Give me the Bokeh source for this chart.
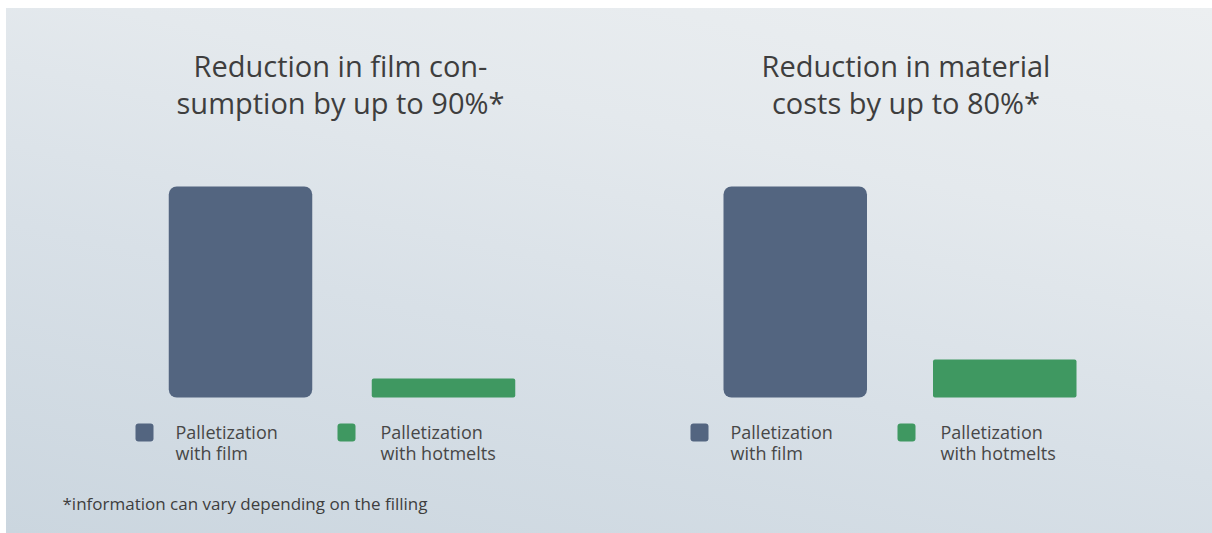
from bokeh.plotting import figure
from bokeh.models import FactorRange, Range1d, Label, BoxAnnotation, ColumnDataSource
from bokeh.layouts import row
from bokeh.embed import file_html
from bokeh.resources import INLINE

# ---- data ----
series = ["Palletization with film", "Palletization with hotmelts"]
legend_labels = ["Palletization\nwith film", "Palletization\nwith hotmelts"]
titles = ["Reduction in film con-\nsumption by up to 90%*",
          "Reduction in material\ncosts by up to 80%*"]
film_values = [100, 100]       # relative consumption / cost with film
hotmelt_values = [9, 18]       # relative consumption / cost with hotmelts
footnote = "*information can vary depending on the filling"
colors = ["#536580", "#3f9861"]

# ---- layout (pixels) ----
FONT = "Open Sans"
TEXT_COLOR = "#3e3e3e"
H = 525
panel_width = [671, 535]
panel_border_right = [0, 90]
unit_px = [203, 209.5]          # distance between the two bar centres
bar_px = 143.5
base_from_bottom = 136          # value 0 position above frame bottom
px_per_unit_y = 211 / 100.0
title_x = [334, 228.5]
title_top = 37
legend_box_x = [[129, 331], [13, 220]]
legend_text_x = [[169, 374], [53, 263]]
legend_box_top, legend_box_size = 110, 18
legend_text_top = 113.6

y_start = -base_from_bottom / px_per_unit_y
y_end = y_start + H / px_per_unit_y

figs = []
for i in range(2):
    frame_w = panel_width[i] - panel_border_right[i]
    pad = (frame_w / unit_px[i] - 2) / 2.0
    p = figure(width=panel_width[i], height=H, output_backend="svg", toolbar_location=None,
               x_range=FactorRange(factors=series, range_padding=pad,
                                   range_padding_units="absolute"),
               y_range=Range1d(y_start, y_end),
               min_border_left=0, min_border_right=panel_border_right[i],
               min_border_top=0, min_border_bottom=0)
    p.axis.visible = False
    p.grid.visible = False
    p.outline_line_color = None
    p.background_fill_alpha = 0
    p.border_fill_alpha = 0

    w = bar_px / unit_px[i]
    src_f = ColumnDataSource(dict(x=[series[0]], top=[film_values[i]]))
    src_h = ColumnDataSource(dict(x=[series[1]], top=[hotmelt_values[i]]))
    p.vbar(x="x", top="top", bottom=0, width=w, source=src_f,
           fill_color=colors[0], line_color=None, border_radius=8)
    p.vbar(x="x", top="top", bottom=0, width=w, source=src_h,
           fill_color=colors[1], line_color=None, border_radius=2)

    p.add_layout(Label(x=title_x[i], y=H - title_top, x_units="screen", y_units="screen",
                       text=titles[i], text_align="center", text_baseline="top",
                       text_font=FONT, text_font_size="29px", text_color=TEXT_COLOR,
                       text_line_height=0.962))

    # legend: coloured square + two-line label for each series
    for k in range(2):
        bx = legend_box_x[i][k]
        p.add_layout(BoxAnnotation(left=bx, right=bx + legend_box_size,
                                   top=legend_box_top, bottom=legend_box_top - legend_box_size,
                                   left_units="screen", right_units="screen",
                                   top_units="screen", bottom_units="screen",
                                   fill_color=colors[k], fill_alpha=1, line_color=None,
                                   border_radius=3, level="overlay"))
        p.add_layout(Label(x=legend_text_x[i][k], y=legend_text_top,
                           x_units="screen", y_units="screen",
                           text=legend_labels[k], text_align="left", text_baseline="top",
                           text_font=FONT, text_font_size="18px", text_color="#474747",
                           text_line_height=0.885))

    if i == 0:
        p.add_layout(Label(x=56, y=30, x_units="screen", y_units="screen",
                           text=footnote, text_align="left", text_baseline="alphabetic",
                           text_font=FONT, text_font_size="17px", text_color=TEXT_COLOR))
    figs.append(p)

layout = row(*figs, styles={
    "margin-left": "6px", "margin-top": "8px",
    "background": "linear-gradient(12deg, #cbd6df 0%, #d8e0e7 40%, #e4e9ed 70%, #eceff1 100%)"})

open("out.html", "w").write(file_html(layout, INLINE))
